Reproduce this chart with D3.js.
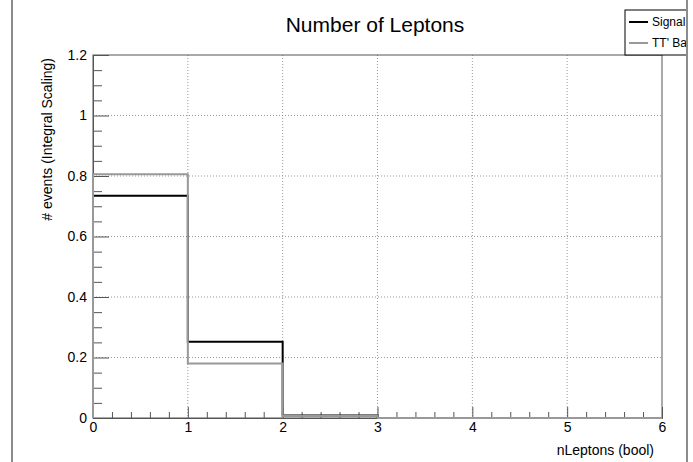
<!DOCTYPE html>
<html>
<head>
<meta charset="utf-8">
<script src="https://cdn.jsdelivr.net/npm/d3@7"></script>
<style>
  body { margin: 0; background: #fff; }
  svg { display: block; font-family: "Liberation Sans", Arial, sans-serif; }
</style>
</head>
<body>
<svg id="chart" width="693" height="462"></svg>
<script>
// bin edges 0..6 (one bin per lepton count)
const binEdges = [0, 1, 2, 3, 4, 5, 6];
const signalValues = [0.735, 0.252, 0.008, 0, 0, 0];
const ttValues = [0.806, 0.18, 0.007, 0, 0, 0];
const seriesNames = ["Signal", "TT' Background"];
const xTicks = [0, 1, 2, 3, 4, 5, 6];
const yTicks = [0, 0.2, 0.4, 0.6, 0.8, 1, 1.2];
const yTickLabels = ["0", "0.2", "0.4", "0.6", "0.8", "1", "1.2"];

const svg = d3.select('#chart');
const margin = { top: 55, right: 31, bottom: 44, left: 93 };
const width = 693 - margin.left - margin.right;
const height = 462 - margin.top - margin.bottom;

const x = d3.scaleLinear().domain([0, 6]).range([0, width]);
const y = d3.scaleLinear().domain([0, 1.2]).range([height, 0]);

// canvas border lines
svg.append('line').attr('x1', 12).attr('x2', 12).attr('y1', 0).attr('y2', 462)
  .attr('stroke', '#666').attr('stroke-width', 1.5);
svg.append('line').attr('x1', 687).attr('x2', 687).attr('y1', 0).attr('y2', 462)
  .attr('stroke', '#666').attr('stroke-width', 1.5);

svg.append('text')
  .attr('x', 375).attr('y', 32)
  .attr('text-anchor', 'middle')
  .attr('font-size', 21)
  .text('Number of Leptons');

const g = svg.append('g').attr('transform', `translate(${margin.left},${margin.top})`);

// grid
g.append('g').selectAll('line').data(xTicks.slice(1, -1)).enter().append('line')
  .attr('x1', d => x(d)).attr('x2', d => x(d)).attr('y1', 0).attr('y2', height)
  .attr('stroke', '#999').attr('stroke-dasharray', '1,2');
g.append('g').selectAll('line').data(yTicks.slice(1, -1)).enter().append('line')
  .attr('x1', 0).attr('x2', width).attr('y1', d => y(d)).attr('y2', d => y(d))
  .attr('stroke', '#999').attr('stroke-dasharray', '1,2');

// frame
g.append('rect').attr('width', width).attr('height', height)
  .attr('fill', 'none').attr('stroke', '#555');

// minor ticks
const xMinor = d3.range(0, 30).map(i => i * 0.2).filter((d, i) => i % 5 !== 0);
const yMinor = d3.range(0, 24).map(i => i * 0.05).filter((d, i) => i % 4 !== 0);

g.append('g').attr('transform', `translate(0,${height})`)
  .call(d3.axisBottom(x).tickValues(xMinor).tickSize(-6).tickFormat(''))
  .call(a => a.select('.domain').remove());
g.append('g').attr('transform', `translate(0,${height})`)
  .call(d3.axisBottom(x).tickValues(xTicks).tickSize(-11).tickPadding(4).tickFormat(d => String(d)))
  .call(a => a.select('.domain').attr('stroke', '#555'))
  .call(a => a.selectAll('text').attr('font-size', 14).attr('font-family', null).attr('fill', '#000'));

g.append('g')
  .call(d3.axisLeft(y).tickValues(yMinor).tickSize(-9).tickFormat(''))
  .call(a => a.select('.domain').remove());
g.append('g')
  .call(d3.axisLeft(y).tickValues(yTicks).tickSize(-16).tickPadding(6).tickFormat((d, i) => yTickLabels[i]))
  .call(a => a.select('.domain').attr('stroke', '#555'))
  .call(a => a.selectAll('text').attr('font-size', 14).attr('font-family', null).attr('fill', '#000'));

g.selectAll('.tick line').attr('stroke', '#555');

// histograms
function steps(values) {
  const pts = [[binEdges[0], 0]];
  values.forEach((v, i) => { pts.push([binEdges[i], v]); pts.push([binEdges[i + 1], v]); });
  pts.push([binEdges[binEdges.length - 1], 0]);
  return pts;
}
const line = d3.line().x(d => x(d[0])).y(d => y(d[1]));

g.append('path').attr('d', line(steps(signalValues)))
  .attr('fill', 'none').attr('stroke', '#000').attr('stroke-width', 2);
g.append('path').attr('d', line(steps(ttValues)))
  .attr('fill', 'none').attr('stroke', '#999').attr('stroke-width', 2);

// axis titles
svg.append('text')
  .attr('x', 654).attr('y', 455)
  .attr('text-anchor', 'end')
  .attr('font-size', 14)
  .text('nLeptons (bool)');
svg.append('text')
  .attr('transform', 'translate(52,58) rotate(-90)')
  .attr('text-anchor', 'end')
  .attr('font-size', 14)
  .text('# events (Integral Scaling)');

// legend (clipped by canvas edge, as in the original)
svg.append('clipPath').attr('id', 'legclip')
  .append('rect').attr('x', 0).attr('y', 0).attr('width', 686).attr('height', 462);
const leg = svg.append('g').attr('clip-path', 'url(#legclip)');
leg.append('rect').attr('x', 625).attr('y', 10).attr('width', 80).attr('height', 45)
  .attr('fill', '#fff').attr('stroke', '#000');
const legColors = ['#000', '#999'];
seriesNames.forEach((name, i) => {
  const yy = 22 + i * 21;
  leg.append('line').attr('x1', 629).attr('x2', 648).attr('y1', yy).attr('y2', yy)
    .attr('stroke', legColors[i]).attr('stroke-width', 2);
  leg.append('text').attr('x', 652).attr('y', yy + 4).attr('font-size', 12).text(name);
});
</script>
</body>
</html>
